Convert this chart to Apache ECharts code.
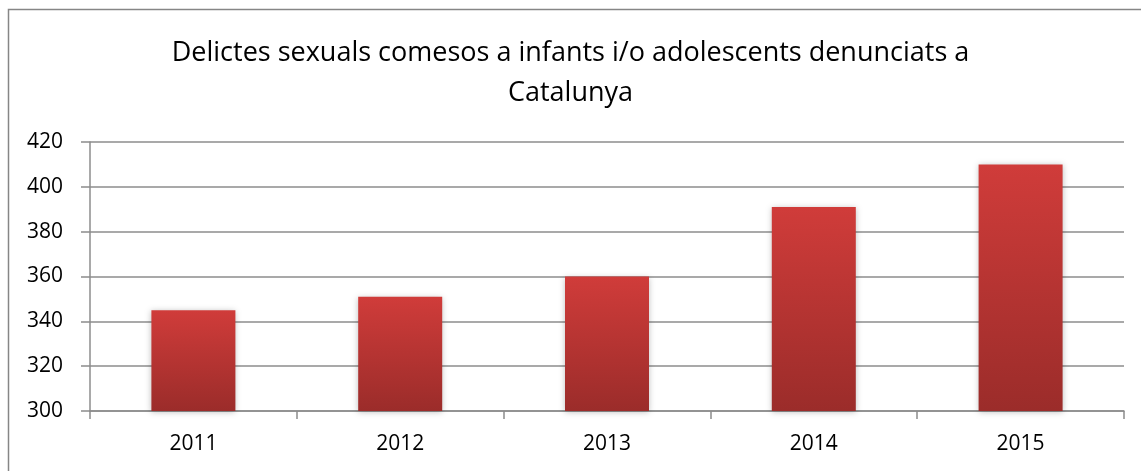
<!DOCTYPE html>
<html><head><meta charset="utf-8">
<script src="https://cdn.jsdelivr.net/npm/echarts@6/dist/echarts.min.js"></script>
<style>html,body{margin:0;padding:0;background:#fff}#c{width:1141px;height:471px}</style>
</head><body><div id="c"></div>
<script>
const titleText = "Delictes sexuals comesos a infants i/o adolescents denunciats a\nCatalunya";
const categories = ["2011", "2012", "2013", "2014", "2015"];
const values = [345, 351, 360, 391, 410];
const yMin = 300, yMax = 420, yStep = 20;

const chart = echarts.init(document.getElementById('c'));
chart.setOption({
  animation: false,
  textStyle: { fontFamily: '"Open Sans", "Liberation Sans", sans-serif' },
  title: {
    text: titleText, left: 'center', top: 28,
    textStyle: { fontSize: 27, fontWeight: 'normal', color: '#000', lineHeight: 40, fontFamily: '"Open Sans", sans-serif' }
  },
  graphic: [{ type: 'rect', shape: { x: 8.5, y: 9.5, width: 1200, height: 500 }, style: { fill: 'none', stroke: '#868686', lineWidth: 1.5 }, silent: true, z: -1 }],
  grid: { left: 90, right: 17, top: 142, bottom: 60, containLabel: false },
  xAxis: {
    type: 'category', data: categories,
    axisLine: { lineStyle: { color: '#8c8c8c', width: 1.5 } },
    axisTick: { show: true, length: 8, alignWithLabel: false, lineStyle: { color: '#8c8c8c', width: 1.5 } },
    axisLabel: { fontSize: 21, color: '#000', margin: 23 }
  },
  yAxis: {
    type: 'value', min: yMin, max: yMax, interval: yStep,
    axisLine: { show: true, lineStyle: { color: '#8c8c8c', width: 1.5 } },
    axisTick: { show: true, length: 9, lineStyle: { color: '#8c8c8c', width: 1.5 } },
    splitLine: { lineStyle: { color: '#8c8c8c', width: 1.5 } },
    axisLabel: { fontSize: 21, color: '#000', margin: 27 }
  },
  series: [{
    type: 'bar', data: values, barWidth: 84,
    itemStyle: {
      color: new echarts.graphic.LinearGradient(0, 0, 0, 1, [
        { offset: 0, color: '#d03c3a' }, { offset: 1, color: '#9b2c2a' }
      ]),
      shadowColor: 'rgba(0,0,0,0.25)', shadowBlur: 6, shadowOffsetY: 1
    }
  }]
});
</script></body></html>
